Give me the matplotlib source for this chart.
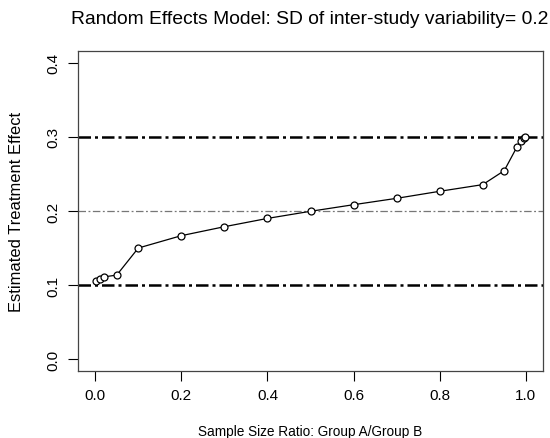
import matplotlib
matplotlib.use("Agg")
import matplotlib.pyplot as plt

# sample size ratio (x) and estimated treatment effect (y)
ratio = [0.002, 0.01, 0.02, 0.05, 0.1, 0.2, 0.3, 0.4, 0.5, 0.6, 0.7, 0.8, 0.9,
         0.95, 0.98, 0.99, 0.995, 0.999]
effect = [0.105, 0.108, 0.111, 0.1135, 0.150, 0.1667, 0.1788, 0.190, 0.1996,
          0.2085, 0.2171, 0.2266, 0.2356, 0.2545, 0.287, 0.295, 0.298, 0.300]

bounds = [0.1, 0.3]
mid_line = 0.2
x_ticks = [0.0, 0.2, 0.4, 0.6, 0.8, 1.0]
y_ticks = [0.0, 0.1, 0.2, 0.3, 0.4]

plt.rcParams['font.family'] = ['Liberation Sans', 'DejaVu Sans']

fig = plt.figure(figsize=(5.5, 4.39), dpi=100)
ax = fig.add_axes([78 / 550, 1 - 372 / 439, 465 / 550, 320 / 439])

# reference lines
for b in bounds:
    ax.axhline(b, color='black', lw=1.8, dashes=(5, 1.6, 1.2, 1.6), zorder=1)
ax.axhline(mid_line, color='#777777', lw=0.9, dashes=(6, 2, 1.5, 2), zorder=1)

ax.plot(ratio, effect, color='black', lw=0.9, marker='o', ms=5,
        mfc='white', mec='black', mew=0.9, zorder=3)

# R style ranges (4% padding)
ax.set_xlim(-0.04, 1.04)
ax.set_ylim(-0.016, 0.416)
ax.set_xticks(x_ticks)
ax.set_xticklabels(["%.1f" % v for v in x_ticks])
ax.set_yticks(y_ticks)
ax.set_yticklabels(["%.1f" % v for v in y_ticks], rotation=90, va='center')
ax.tick_params(direction='out', length=7, width=0.8, labelsize=11, pad=5.5)
for s in ax.spines.values():
    s.set_linewidth(0.9)
    s.set_color('#444444')

fig.text(310 / 550, 1 - 20 / 439, "Random Effects Model: SD of inter-study variability= 0.2",
         ha='center', va='center', fontsize=13.9)
fig.text(310 / 550, 1 - 432 / 439, "Sample Size Ratio: Group A/Group B",
         ha='center', va='center', fontsize=9.8)
fig.text(17 / 550, 1 - 212 / 439, "Estimated Treatment Effect",
         ha='center', va='center', rotation=90, fontsize=11.9)

fig.savefig("out.png", dpi=100)
